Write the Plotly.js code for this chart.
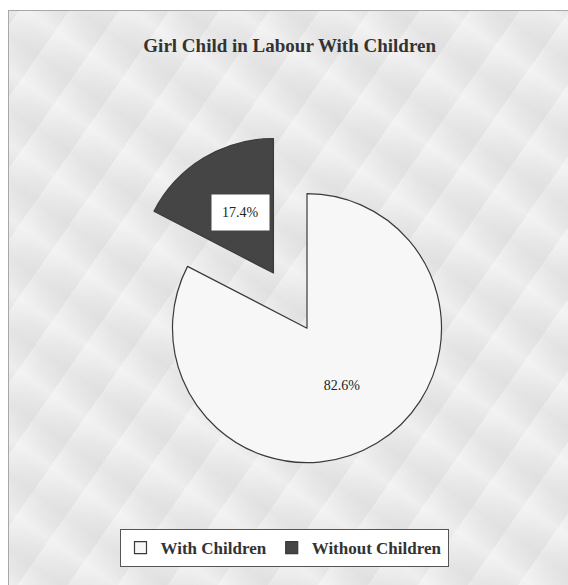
<!DOCTYPE html>
<html>
<head>
<meta charset="utf-8">
<script src="https://cdn.plot.ly/plotly-3.0.1.min.js"></script>
<style>
  html, body { margin: 0; padding: 0; background: #ffffff; }
  #wrap { position: relative; width: 568px; height: 585px; overflow: hidden; }
  #frame {
    position: absolute; left: 8px; top: 10px; width: 560px; height: 575px;
    box-sizing: border-box; border: 1px solid #a8a8a8; border-right: none; border-bottom: none;
    background:
      repeating-linear-gradient(35deg, rgba(255,255,255,0.35) 0px, rgba(255,255,255,0.0) 14px, rgba(200,200,200,0.18) 30px, rgba(255,255,255,0.0) 46px, rgba(255,255,255,0.3) 60px),
      repeating-linear-gradient(-55deg, rgba(190,190,190,0.10) 0px, rgba(255,255,255,0.0) 22px, rgba(255,255,255,0.25) 41px),
      #e9e9e9;
  }
  #chart { position: absolute; left: 0; top: 0; width: 568px; height: 585px; }
</style>
</head>
<body>
<div id="wrap">
  <div id="frame"></div>
  <div id="chart"></div>
</div>
<script>
const categories = ["With Children", "Without Children"];
const values = [82.6, 17.4];
const titleText = "Girl Child in Labour With Children";

const data = [{
  type: "pie",
  labels: categories,
  values: values,
  sort: false,
  direction: "clockwise",
  rotation: 0,
  pull: [0, 0.48],
  marker: { colors: ["#f7f7f7", "#454545"], line: { color: "#3a3a3a", width: 1.2 } },
  texttemplate: ["%{percent:.1%}", ""],
  textposition: "inside",
  insidetextorientation: "horizontal",
  textfont: { family: "Liberation Serif, serif", size: 14, color: "#222" },
  hoverinfo: "label+percent",
  domain: { x: [0.19, 0.891], y: [0.097, 0.781] }
}];

const total = values.reduce((a, b) => a + b, 0);
const layout = {
  width: 568, height: 585,
  margin: { l: 0, r: 0, t: 0, b: 0 },
  paper_bgcolor: "rgba(0,0,0,0)",
  plot_bgcolor: "rgba(0,0,0,0)",
  title: {
    text: "<b>" + titleText + "</b>",
    x: 0.51, xanchor: "center", y: 0.923, yanchor: "middle",
    font: { family: "Liberation Serif, serif", size: 19, color: "#333" }
  },
  showlegend: true,
  legend: {
    orientation: "h", x: 0.5, xanchor: "center", y: 0.063, yanchor: "middle",
    bgcolor: "#ffffff", bordercolor: "#555", borderwidth: 1,
    font: { family: "Liberation Serif, serif", size: 17, color: "#333", weight: "bold" },
    itemwidth: 30, traceorder: "normal"
  },
  annotations: [{
    text: (values[1] / total * 100).toFixed(1) + "%",
    xref: "paper", yref: "paper", x: 0.424, y: 0.636,
    showarrow: false, bgcolor: "#ffffff", borderpad: 10,
    font: { family: "Liberation Serif, serif", size: 14, color: "#222" }
  }]
};

Plotly.newPlot("chart", data, layout, { displayModeBar: false, staticPlot: true });
</script>
</body>
</html>
